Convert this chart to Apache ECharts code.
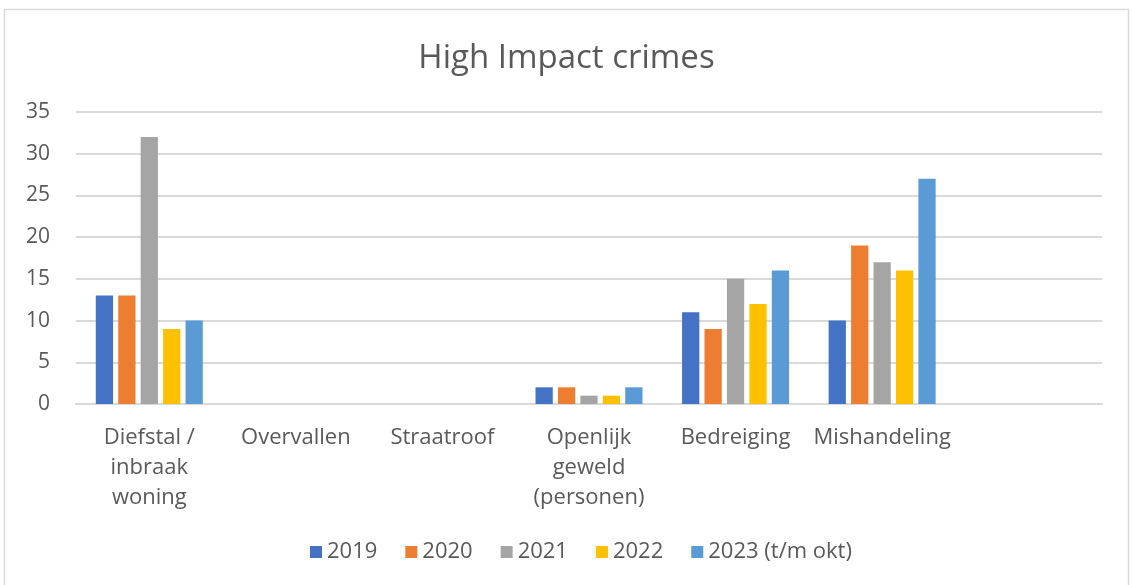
<!DOCTYPE html>
<html>
<head>
<meta charset="utf-8">
<script src="https://cdn.jsdelivr.net/npm/echarts@6/dist/echarts.min.js"></script>
<style>
html,body{margin:0;padding:0;background:#fff;}
#c{width:1133px;height:585px;}
</style>
</head>
<body>
<div id="c"></div>
<script>
var categories = ["Diefstal /\ninbraak\nwoning", "Overvallen", "Straatroof", "Openlijk\ngeweld\n(personen)", "Bedreiging", "Mishandeling", ""];
var seriesNames = ["2019", "2020", "2021", "2022", "2023 (t/m okt)"];
var v2019 = [13, 0, 0, 2, 11, 10, null];
var v2020 = [13, 0, 0, 2, 9, 19, null];
var v2021 = [32, 0, 0, 1, 15, 17, null];
var v2022 = [9, 0, 0, 1, 12, 16, null];
var v2023 = [10, 0, 0, 2, 16, 27, null];
var yTicks = [0, 5, 10, 15, 20, 25, 30, 35];

var colors = ["#4472C4", "#ED7D31", "#A5A5A5", "#FFC000", "#5B9BD5"];
var values = [v2019, v2020, v2021, v2022, v2023];
var FONT = "Open Sans";

var chart = echarts.init(document.getElementById('c'));
chart.setOption({
  animation: false,
  color: colors,
  textStyle: {fontFamily: FONT},
  title: {
    text: "High Impact crimes",
    left: 'center',
    top: 37,
    textStyle: {fontFamily: FONT, fontSize: 33, fontWeight: 'normal', color: '#595959'}
  },
  graphic: [{
    type: 'rect',
    shape: {x: 4.5, y: 9.5, width: 1124, height: 600},
    style: {fill: 'none', stroke: '#d9d9d9', lineWidth: 1.5},
    silent: true
  }],
  legend: {
    bottom: 17,
    left: 305,
    itemWidth: 12,
    itemHeight: 12,
    itemGap: 28,
    icon: 'rect',
    textStyle: {fontFamily: FONT, fontSize: 22, color: '#595959'},
    data: seriesNames
  },
  grid: {left: 76, right: 31, top: 112, bottom: 181, containLabel: false},
  xAxis: {
    type: 'category',
    data: categories,
    axisLine: {lineStyle: {color: '#d9d9d9', width: 2}},
    axisTick: {show: false},
    axisLabel: {fontFamily: FONT, fontSize: 22, color: '#595959', lineHeight: 30, margin: 19, interval: 0}
  },
  yAxis: {
    type: 'value',
    min: yTicks[0],
    max: yTicks[yTicks.length - 1],
    interval: 5,
    axisLine: {show: false},
    axisTick: {show: false},
    splitLine: {lineStyle: {color: '#d9d9d9', width: 2}},
    axisLabel: {fontFamily: FONT, fontSize: 21, color: '#595959', margin: 26}
  },
  series: seriesNames.map(function (n, i) {
    return {
      name: n,
      type: 'bar',
      data: values[i],
      barGap: '30%',
      barCategoryGap: '27%',
      itemStyle: {color: colors[i]}
    };
  })
});
</script>
</body>
</html>
